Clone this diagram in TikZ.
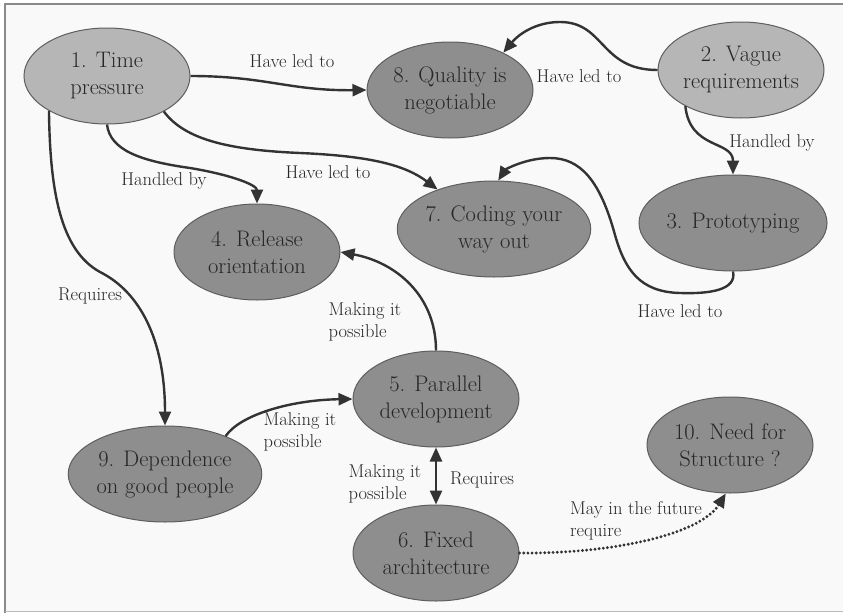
\documentclass[tikz,border=0pt]{standalone}
\usetikzlibrary{shapes.geometric,arrows.meta}
\definecolor{darkfill}{HTML}{8E8E8E}
\definecolor{lightfill}{HTML}{B6B6B6}
\definecolor{nodeedge}{HTML}{5E5E5E}
\definecolor{txt}{HTML}{262626}
\definecolor{lnk}{HTML}{333333}
\definecolor{paper}{HTML}{F9F9F9}
\definecolor{frame}{HTML}{8A8A8A}
\begin{document}
\begin{tikzpicture}[x=1pt,y=-1pt,
  concept/.style={ellipse, draw=nodeedge, line width=1pt, fill=darkfill,
    minimum width=166pt, minimum height=96pt, inner sep=0pt, align=center,
    font=\fontsize{22.5}{27}\selectfont, text=txt},
  lightconcept/.style={concept, fill=lightfill},
  link/.style={line width=2.4pt, draw=lnk, -{Triangle[length=14pt,width=12pt]}},
  lbl/.style={font=\fontsize{18.5}{22}\selectfont, text=txt, align=left, inner sep=0pt},
]
\useasboundingbox (0,0) rectangle (843,613);
\fill[white] (0,0) rectangle (843,613);
\fill[paper] (5,4) rectangle (843,611);
\draw[frame, line width=2pt] (5,613) -- (5,4) -- (843,4);
\draw[frame!60, line width=1pt] (5,611) -- (843,611);

% nodes
\node[lightconcept] (n1) at (107,76) {1. Time\\pressure};
\node[lightconcept] (n2) at (741,70) {2. Vague\\requirements};
\node[concept] (n8) at (450,90) {8. Quality is\\negotiable};
\node[concept] (n3) at (733,223) {3. Prototyping};
\node[concept] (n7) at (494,229) {7. Coding your\\way out};
\node[concept] (n4) at (257,252) {4. Release\\orientation};
\node[concept] (n5) at (436,399) {5. Parallel\\development};
\node[concept] (n9) at (165,474) {9. Dependence\\on good people};
\node[concept] (n6) at (436,553) {6. Fixed\\architecture};
\node[concept] (n10) at (730,445) {10. Need for\\Structure ?};

% connectors
\draw[link] (n1.east) .. controls (265,76) and (290,91) .. (n8.west);
\draw[link] (n2.west) .. controls (600,70) and (605,22) .. (560,22)
  .. controls (535,22) and (518,35) .. (n8.35);
\draw[link] (n2.213) .. controls (690,150) and (733,140) .. (n3.north);
\draw[link] (n3.south) .. controls (737,290) and (710,294) .. (680,293)
  .. controls (640,292) and (625,270) .. (615,235)
  .. controls (600,180) and (580,158) .. (550,158)
  .. controls (525,158) and (505,170) .. (n7.85);
\draw[link] (n1.-32) .. controls (185,140) and (230,150) .. (300,153)
  .. controls (370,156) and (405,165) .. (n7.145);
\draw[link] (n1.south) .. controls (110,150) and (140,161) .. (190,168)
  .. controls (232,175) and (257,185) .. (n4.north);
\draw[link] (n1.211) .. controls (50,190) and (60,250) .. (100,272)
  .. controls (140,292) and (165,340) .. (n9.north);
\draw[link] (n5.north) .. controls (436,295) and (395,262) .. (n4.east);
\draw[link] (n9.32) .. controls (240,415) and (290,400) .. (n5.west);
\draw[link, {Triangle[length=14pt,width=12pt]}-{Triangle[length=14pt,width=12pt]}] (n5.south) -- (n6.north);
\draw[line width=3.2pt, draw=lnk, dash pattern=on 0pt off 4.2pt, line cap=round,
  -{Triangle[length=14pt,width=12pt]}]
  (n6.east) .. controls (610,554) and (700,535) .. (n10.-95);

% labels
\node[lbl] (l18) at (292,61) {Have led to};
\node[lbl] (l28) at (579,76) {Have led to};
\node[lbl] (l23) at (772,143) {Handled by};
\node[lbl] (l17) at (328,172) {Have led to};
\node[lbl] (l14) at (164,181) {Handled by};
\node[lbl] (l19) at (90,296) {Requires};
\node[lbl] (l37) at (680,311) {Have led to};
\node[lbl] (l54) at (365,322) {Making it\\possible};
\node[lbl] (l95) at (300,432) {Making it\\possible};
\node[lbl] (l56a) at (385,484) {Making it\\possible};
\node[lbl] (l56b) at (482,480) {Requires};
\node[lbl] (l610) at (636,521) {May in the future\\require};
\end{tikzpicture}
\end{document}
